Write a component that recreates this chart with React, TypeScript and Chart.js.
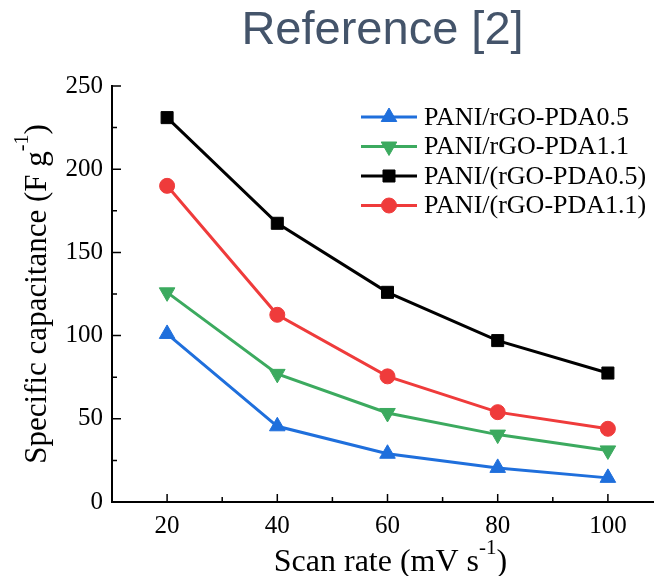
import React, { useEffect, useRef } from "react";
import { Chart, registerables } from "chart.js";
import { drawPoint } from "chart.js/helpers";

Chart.register(...registerables);

// ---- data ----
const scanRates = [20, 40, 60, 80, 100];
const seriesLabels = [
  "PANI/rGO-PDA0.5",
  "PANI/rGO-PDA1.1",
  "PANI/(rGO-PDA0.5)",
  "PANI/(rGO-PDA1.1)",
];
const rgoPda05 = [101, 45.5, 29, 20.5, 14.5];
const rgoPda11 = [126, 77, 53.5, 40.5, 31];
const rgoPda05Paren = [231, 167.5, 126, 97, 77.5];
const rgoPda11Paren = [190, 112.5, 75.5, 54, 44];
const xMajorTicks = [20, 40, 60, 80, 100];
const xMinorTicks = [10, 30, 50, 70, 90, 110];
const yMajorTicks = [0, 50, 100, 150, 200, 250];
const yMinorTicks = [25, 75, 125, 175, 225];

const SERIF = "'Liberation Serif', 'Times New Roman', serif";
const SANS = "'Liberation Sans', Arial, sans-serif";

const styles = [
  { color: "#1f6fdc", pointStyle: "triangle", radius: 9, rotation: 0 },
  { color: "#3caa5f", pointStyle: "triangle", radius: 9, rotation: 180 },
  { color: "#000000", pointStyle: "rect", radius: 8.5, rotation: 0 },
  { color: "#ef3b3b", pointStyle: "circle", radius: 7.5, rotation: 0 },
];

const seriesValues = [rgoPda05, rgoPda11, rgoPda05Paren, rgoPda11Paren];

type Part = { text: string; size: number; rise: number };

function drawParts(ctx: CanvasRenderingContext2D, parts: Part[], cx: number, baseline: number) {
  let total = 0;
  const widths = parts.map((p) => {
    ctx.font = `${p.size}px ${SERIF}`;
    const w = ctx.measureText(p.text).width;
    total += w;
    return w;
  });
  let x = cx - total / 2;
  ctx.textAlign = "left";
  ctx.textBaseline = "alphabetic";
  parts.forEach((p, i) => {
    ctx.font = `${p.size}px ${SERIF}`;
    ctx.fillText(p.text, x, baseline - p.rise);
    x += widths[i];
  });
}

const decorPlugin = {
  id: "decor",
  afterDraw(chart: any) {
    const { ctx, chartArea } = chart;
    const { left, right, top, bottom } = chartArea;
    const xs = chart.scales.x;
    const ys = chart.scales.y;
    ctx.save();

    // inward tick marks
    ctx.strokeStyle = "#000";
    ctx.lineWidth = 1.5;
    ctx.beginPath();
    xMajorTicks.forEach((v) => {
      const px = xs.getPixelForValue(v);
      ctx.moveTo(px, bottom);
      ctx.lineTo(px, bottom - 8);
    });
    xMinorTicks.forEach((v) => {
      const px = xs.getPixelForValue(v);
      ctx.moveTo(px, bottom);
      ctx.lineTo(px, bottom - 5);
    });
    yMajorTicks.forEach((v) => {
      const py = ys.getPixelForValue(v);
      ctx.moveTo(left, py);
      ctx.lineTo(left + 9, py);
    });
    yMinorTicks.forEach((v) => {
      const py = ys.getPixelForValue(v);
      ctx.moveTo(left, py);
      ctx.lineTo(left + 5, py);
    });
    ctx.stroke();

    // chart title
    ctx.fillStyle = "#44546a";
    ctx.font = `47px ${SANS}`;
    ctx.textAlign = "center";
    ctx.textBaseline = "alphabetic";
    ctx.fillText("Reference [2]", (left + right) / 2 - 5, 44);

    // axis titles
    ctx.fillStyle = "#000";
    drawParts(
      ctx,
      [
        { text: "Scan rate (mV s", size: 32, rise: 0 },
        { text: "-1", size: 21, rise: 17 },
        { text: ")", size: 32, rise: 0 },
      ],
      (left + right) / 2 + 3,
      571
    );
    ctx.save();
    ctx.translate(46, (top + bottom) / 2);
    ctx.rotate(-Math.PI / 2);
    drawParts(
      ctx,
      [
        { text: "Specific capacitance (F g", size: 31, rise: 0 },
        { text: "-1", size: 20, rise: 18 },
        { text: ")", size: 31, rise: 0 },
      ],
      0,
      0
    );
    ctx.restore();

    // legend
    const lx0 = left + 249;
    const lx1 = left + 305;
    const mx = left + 277;
    chart.data.datasets.forEach((ds: any, i: number) => {
      const st = styles[i];
      const yy = top + 31 + i * 29.5;
      ctx.strokeStyle = st.color;
      ctx.fillStyle = st.color;
      ctx.lineWidth = 3;
      ctx.beginPath();
      ctx.moveTo(lx0, yy);
      ctx.lineTo(lx1, yy);
      ctx.stroke();
      ctx.lineWidth = 1;
      drawPoint(
        ctx,
        { pointStyle: st.pointStyle, radius: st.radius, rotation: st.rotation, borderWidth: 1 } as any,
        mx,
        yy
      );
      ctx.fillStyle = "#000";
      ctx.font = `26px ${SERIF}`;
      ctx.textAlign = "left";
      ctx.textBaseline = "middle";
      ctx.fillText(ds.label, left + 312, yy + 1);
    });

    ctx.restore();
  },
};

export default function App() {
  const ref = useRef<HTMLCanvasElement | null>(null);

  useEffect(() => {
    document.body.style.margin = "0";
    const canvas = ref.current;
    if (!canvas) return;
    const chart = new Chart(canvas, {
      type: "line",
      data: {
        datasets: seriesValues.map((vals, i) => ({
          label: seriesLabels[i],
          data: scanRates.map((x, j) => ({ x, y: vals[j] })),
          borderColor: styles[i].color,
          backgroundColor: styles[i].color,
          borderWidth: 3,
          pointStyle: styles[i].pointStyle as any,
          pointRadius: styles[i].radius,
          pointRotation: styles[i].rotation,
          pointBorderWidth: 1,
          pointBorderColor: styles[i].color,
          pointBackgroundColor: styles[i].color,
          tension: 0,
          fill: false,
        })),
      },
      options: {
        responsive: false,
        animation: false,
        layout: { padding: { top: 86, left: 0, right: 0, bottom: 0 } },
        plugins: {
          legend: { display: false },
          title: { display: false },
          tooltip: { enabled: false },
        },
        scales: {
          x: {
            type: "linear",
            min: 10,
            max: 110,
            afterFit: (s: any) => {
              s.height = 74;
            },
            afterBuildTicks: (s: any) => {
              s.ticks = xMajorTicks.map((v) => ({ value: v }));
            },
            grid: { display: false, drawTicks: false },
            border: { display: true, color: "#000", width: 2 },
            ticks: {
              padding: 9,
              color: "#000",
              font: { family: SERIF, size: 25 },
              autoSkip: false,
              maxRotation: 0,
            },
          },
          y: {
            type: "linear",
            min: 0,
            max: 250,
            afterFit: (s: any) => {
              s.width = 112;
            },
            afterBuildTicks: (s: any) => {
              s.ticks = yMajorTicks.map((v) => ({ value: v }));
            },
            grid: { display: false, drawTicks: false },
            border: { display: true, color: "#000", width: 2 },
            ticks: {
              padding: 9,
              color: "#000",
              font: { family: SERIF, size: 25 },
              autoSkip: false,
            },
          },
        },
      },
      plugins: [decorPlugin],
    });
    return () => chart.destroy();
  }, []);

  return (
    <div style={{ width: 654, height: 576, overflow: "hidden", position: "relative" }}>
      <canvas ref={ref} width={673} height={576} style={{ display: "block" }} />
    </div>
  );
}
